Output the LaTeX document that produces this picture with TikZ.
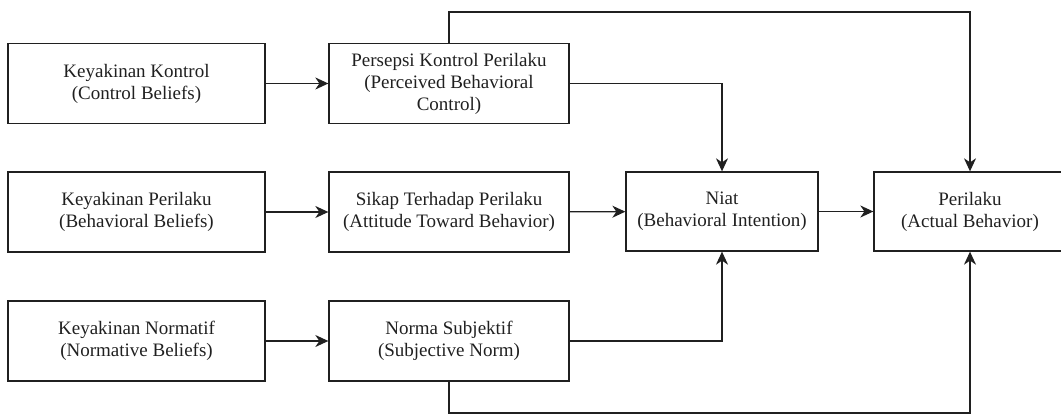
\documentclass[tikz,border=0pt]{standalone}
\usepackage{fontspec}
\newfontfamily\timesfont{Liberation Serif}
\usetikzlibrary{arrows.meta}
\definecolor{ink}{HTML}{202020}
\begin{document}
\begin{tikzpicture}[x=1pt,y=-1pt,
  box/.style={draw=ink, text=ink, line width=1.3pt, inner sep=0pt, align=center,
    font=\timesfont\fontsize{19}{22}\selectfont},
  wbox/.style={box, minimum width=257pt, minimum height=80pt},
  mbox/.style={box, minimum width=240pt, minimum height=80pt},
  rbox/.style={box, minimum width=192pt, minimum height=79pt},
  conn/.style={draw=ink, line width=1.3pt, -{Stealth[length=13pt,width=12pt,inset=4pt]}}]
\useasboundingbox (0,0) rectangle (1061,414);
\clip (0,0) rectangle (1061,414);
\node[wbox] (kk) at (136.5,83.5) {Keyakinan Kontrol\\(Control Beliefs)};
\node[mbox] (pk) at (449,83.5) {Persepsi Kontrol Perilaku\\(Perceived Behavioral\\Control)};
\node[wbox] (kp) at (136.5,212) {Keyakinan Perilaku\\(Behavioral Beliefs)};
\node[mbox] (sp) at (449,212) {Sikap Terhadap Perilaku\\(Attitude Toward Behavior)};
\node[wbox] (kn) at (136.5,341) {Keyakinan Normatif\\(Normative Beliefs)};
\node[mbox] (ns) at (449,341) {Norma Subjektif\\(Subjective Norm)};
\node[rbox] (niat) at (722,211.5) {Niat\\(Behavioral Intention)};
\node[rbox] (per) at (970,211.5) {Perilaku\\(Actual Behavior)};
\coordinate (t1) at (449,12);
\coordinate (t2) at (970,12);
\coordinate (b1) at (449,413);
\coordinate (b2) at (970,413);
\draw[conn] (kk) -- (pk);
\draw[conn] (kp) -- (sp);
\draw[conn] (kn) -- (ns);
\draw[conn] (sp) -- (niat);
\draw[conn] (niat) -- (per);
\draw[conn] (pk.north) -- (t1) -- (t2) -- (per.north);
\draw[conn] (pk.east) -| (niat.north);
\draw[conn] (ns.east) -| (niat.south);
\draw[conn] (ns.south) -- (b1) -- (b2) -- (per.south);
\end{tikzpicture}
\end{document}
